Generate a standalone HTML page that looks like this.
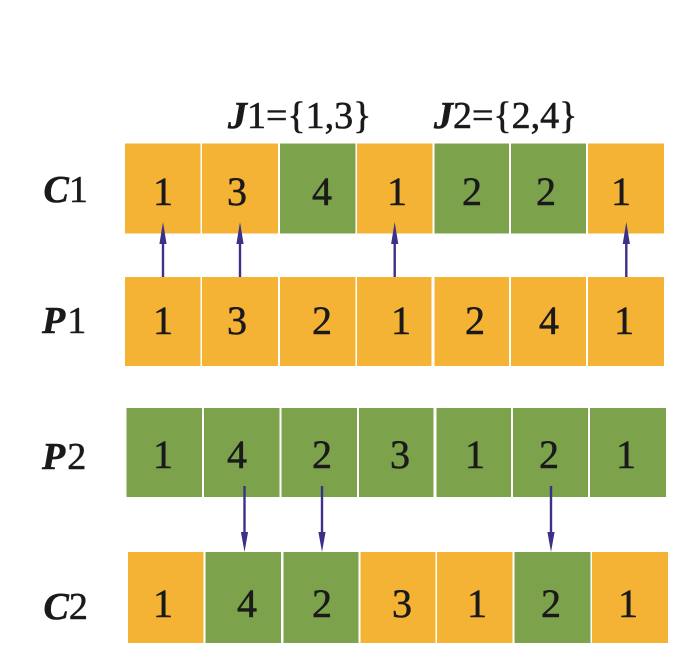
<!DOCTYPE html>
<html>
<head>
<meta charset="utf-8">
<style>
html,body{margin:0;padding:0;background:#fff;width:700px;height:665px;overflow:hidden}
svg{display:block}
text{font-family:"Liberation Serif",serif;fill:#1a1a1a;stroke:#1a1a1a;stroke-width:.55px}
.d{font-size:40px;text-anchor:middle}
.l{font-size:38px}
.t{font-size:38px}
.i{font-style:italic;font-weight:bold}
.o{fill:#f5b336}
.g{fill:#7ca34c}
.a{stroke:#3b3188;stroke-width:2.4;fill:none}
.h{fill:#3b3188}
</style>
</head>
<body>
<svg width="700" height="665" viewBox="0 0 700 665" xmlns="http://www.w3.org/2000/svg">
<rect width="700" height="665" fill="#fff"/>

<!-- C1 -->
<rect class="o" x="125" y="143.5" width="75.5" height="90"/>
<rect class="o" x="202" y="143.5" width="76" height="90"/>
<rect class="g" x="280" y="143.5" width="75.5" height="90"/>
<rect class="o" x="357" y="143.5" width="75.5" height="90"/>
<rect class="g" x="434.5" y="143.5" width="74.5" height="90"/>
<rect class="g" x="511" y="143.5" width="75" height="90"/>
<rect class="o" x="588" y="143.5" width="76" height="90"/>

<!-- P1 -->
<rect class="o" x="125" y="277" width="75.5" height="89"/>
<rect class="o" x="202" y="277" width="76" height="89"/>
<rect class="o" x="280" y="277" width="75.5" height="89"/>
<rect class="o" x="357" y="277" width="74.5" height="89"/>
<rect class="o" x="434.5" y="277" width="74.5" height="89"/>
<rect class="o" x="511" y="277" width="75" height="89"/>
<rect class="o" x="588" y="277" width="76" height="89"/>

<!-- P2 -->
<rect class="g" x="126.5" y="408" width="75.5" height="89"/>
<rect class="g" x="204" y="408" width="75.5" height="89"/>
<rect class="g" x="281.5" y="408" width="75.5" height="89"/>
<rect class="g" x="359" y="408" width="74.5" height="89"/>
<rect class="g" x="436.5" y="408" width="74.5" height="89"/>
<rect class="g" x="513" y="408" width="75" height="89"/>
<rect class="g" x="590" y="408" width="76" height="89"/>

<!-- C2 -->
<rect class="o" x="128" y="552" width="75.5" height="91"/>
<rect class="g" x="205.5" y="552" width="75.5" height="91"/>
<rect class="g" x="283.5" y="552" width="75" height="91"/>
<rect class="o" x="360.5" y="552" width="75" height="91"/>
<rect class="o" x="437" y="552" width="75.5" height="91"/>
<rect class="g" x="514.5" y="552" width="76" height="91"/>
<rect class="o" x="592" y="552" width="76" height="91"/>

<!-- Upward arrows -->
<line class="a" x1="163" y1="277" x2="163" y2="240"/><polygon class="h" points="163,222 159.4,244 166.6,244"/>
<line class="a" x1="240" y1="277" x2="240" y2="240"/><polygon class="h" points="240,222 236.4,244 243.6,244"/>
<line class="a" x1="394.7" y1="277" x2="394.7" y2="240"/><polygon class="h" points="394.7,222 391.1,244 398.3,244"/>
<line class="a" x1="626.3" y1="277" x2="626.3" y2="240"/><polygon class="h" points="626.3,222 622.7,244 629.9,244"/>

<!-- Downward arrows -->
<line class="a" x1="244.5" y1="486" x2="244.5" y2="536"/><polygon class="h" points="244.5,552 240.9,532 248.1,532"/>
<line class="a" x1="322" y1="486" x2="322" y2="536"/><polygon class="h" points="322,552 318.4,532 325.6,532"/>
<line class="a" x1="551" y1="486" x2="551" y2="536"/><polygon class="h" points="551,552 547.4,532 554.6,532"/>

<!-- Headings -->
<text class="t" x="228" y="128"><tspan class="i">J</tspan>1={1,3}</text>
<text class="t" x="434" y="128"><tspan class="i">J</tspan>2={2,4}</text>

<!-- Row labels -->
<text class="l" x="43.5" y="202"><tspan class="i">C</tspan>1</text>
<text class="l" x="42" y="333"><tspan class="i">P</tspan><tspan dx="2">1</tspan></text>
<text class="l" x="42" y="469"><tspan class="i">P</tspan><tspan dx="2">2</tspan></text>
<text class="l" x="43.5" y="619"><tspan class="i">C</tspan>2</text>

<!-- C1 digits -->
<text class="d" x="163" y="205">1</text>
<text class="d" x="237" y="205">3</text>
<text class="d" x="322" y="205">4</text>
<text class="d" x="397" y="205">1</text>
<text class="d" x="472" y="205">2</text>
<text class="d" x="546" y="205">2</text>
<text class="d" x="621" y="205">1</text>

<!-- P1 digits -->
<text class="d" x="163" y="334">1</text>
<text class="d" x="237" y="334">3</text>
<text class="d" x="322" y="334">2</text>
<text class="d" x="401" y="334">1</text>
<text class="d" x="475" y="334">2</text>
<text class="d" x="549" y="334">4</text>
<text class="d" x="624" y="334">1</text>

<!-- P2 digits -->
<text class="d" x="163" y="468">1</text>
<text class="d" x="237" y="468">4</text>
<text class="d" x="322" y="468">2</text>
<text class="d" x="400" y="468">3</text>
<text class="d" x="475" y="468">1</text>
<text class="d" x="549" y="468">2</text>
<text class="d" x="626" y="468">1</text>

<!-- C2 digits -->
<text class="d" x="163" y="617">1</text>
<text class="d" x="247" y="617">4</text>
<text class="d" x="322" y="617">2</text>
<text class="d" x="402" y="617">3</text>
<text class="d" x="477" y="617">1</text>
<text class="d" x="551" y="617">2</text>
<text class="d" x="628" y="617">1</text>
</svg>
</body>
</html>
